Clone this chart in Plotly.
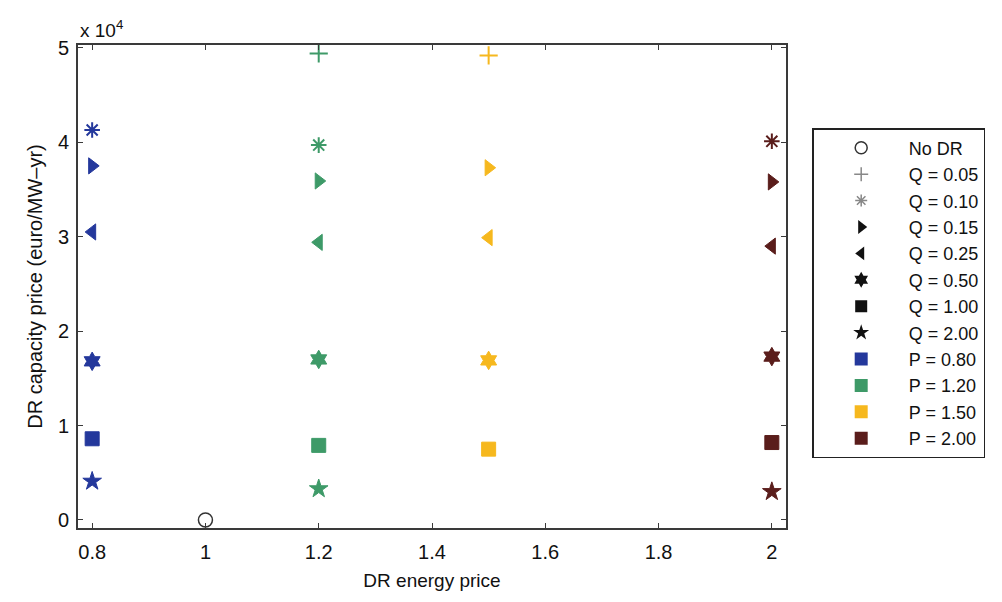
import plotly.graph_objects as go

# DR capacity price (euro/MW-yr) by DR energy price P and quantity Q
q_labels = ["Q = 0.05", "Q = 0.10", "Q = 0.15", "Q = 0.25", "Q = 0.50", "Q = 1.00", "Q = 2.00"]
q_symbols = ["cross-thin-open", "asterisk-open", "triangle-right", "triangle-left", "hexagram", "square", "star"]

p_labels = ["P = 0.80", "P = 1.20", "P = 1.50", "P = 2.00"]
p_values = [0.8, 1.2, 1.5, 2.0]
p_colors = ["#24389c", "#3e9a68", "#f6b81e", "#5a1d1b"]

# capacity price per P (columns follow q_labels; None = not shown)
cap_p080 = [None, 41300, 37500, 30500, 16800, 8600, 4100]
cap_p120 = [49400, 39700, 35900, 29400, 17000, 7900, 3300]
cap_p150 = [49200, None, 37300, 29900, 16900, 7500, None]
cap_p200 = [None, 40100, 35800, 29000, 17300, 8200, 3000]
cap_by_p = [cap_p080, cap_p120, cap_p150, cap_p200]

no_dr_x = [1.0]
no_dr_y = [0]

y_ticks = [0, 10000, 20000, 30000, 40000, 50000]
y_tick_text = ["0", "1", "2", "3", "4", "5"]
x_ticks = [0.8, 1.0, 1.2, 1.4, 1.6, 1.8, 2.0]
x_tick_text = ["0.8", "1", "1.2", "1.4", "1.6", "1.8", "2"]

FONT = "Liberation Sans, Arial, sans-serif"

fig = go.Figure()

# data markers
for pv, col, caps in zip(p_values, p_colors, cap_by_p):
    for sym, val in zip(q_symbols, caps):
        if val is None:
            continue
        thin = sym.endswith("-open")
        fig.add_trace(go.Scatter(
            x=[pv], y=[val], mode="markers", showlegend=False,
            marker=dict(symbol=sym, size=13 if thin else 14, color=col,
                        line=dict(color=col, width=2 if thin else 1)),
        ))

fig.add_trace(go.Scatter(
    x=no_dr_x, y=no_dr_y, mode="markers", showlegend=False,
    marker=dict(symbol="circle-open", size=14, color="#333333", line=dict(width=1.5)),
))

# legend entries
fig.add_trace(go.Scatter(x=[None], y=[None], mode="markers", name="No DR",
                         marker=dict(symbol="circle-open", size=12, color="#333333",
                                     line=dict(width=1.5))))
for lab, sym in zip(q_labels, q_symbols):
    thin = sym.endswith("-open")
    col = "#888888" if thin else "#111111"
    fig.add_trace(go.Scatter(x=[None], y=[None], mode="markers", name=lab,
                             marker=dict(symbol=sym, size=10 if thin else 12, color=col,
                                         line=dict(color=col, width=1.5 if thin else 0))))
for lab, col in zip(p_labels, p_colors):
    fig.add_trace(go.Scatter(x=[None], y=[None], mode="markers", name=lab,
                             marker=dict(symbol="square", size=13, color=col)))

axis_common = dict(
    showline=True, linecolor="#3a3a3a", linewidth=2, mirror="ticks",
    ticks="inside", ticklen=5, tickcolor="#3a3a3a", showgrid=False, zeroline=False,
    tickfont=dict(family=FONT, size=20, color="#111111"),
)

fig.update_layout(
    width=1002, height=602,
    margin=dict(l=78, r=216, t=45, b=74),
    paper_bgcolor="white", plot_bgcolor="white",
    font=dict(family=FONT, color="#111111"),
    xaxis=dict(range=[0.775, 2.025], tickvals=x_ticks, ticktext=x_tick_text,
               ticklabelstandoff=5,
               title=dict(text="DR energy price", font=dict(size=19), standoff=12),
               **axis_common),
    yaxis=dict(range=[-850, 50300], tickvals=y_ticks, ticktext=y_tick_text,
               ticklabelstandoff=3,
               title=dict(text="DR capacity price (euro/MW\u2013yr)", font=dict(size=20), standoff=10),
               **axis_common),
    legend=dict(x=1.037, y=0.828, xanchor="left", yanchor="top",
                bordercolor="#222222", borderwidth=1.5, bgcolor="white",
                font=dict(size=18, family=FONT),
                itemwidth=85, tracegroupgap=0),
    annotations=[dict(text="x 10<sup>4</sup>", xref="paper", yref="paper",
                      x=0.0, y=1.0, xanchor="left", yanchor="bottom", yshift=2, showarrow=False,
                      font=dict(size=19, family=FONT))],
)

fig.write_html("out.html")
